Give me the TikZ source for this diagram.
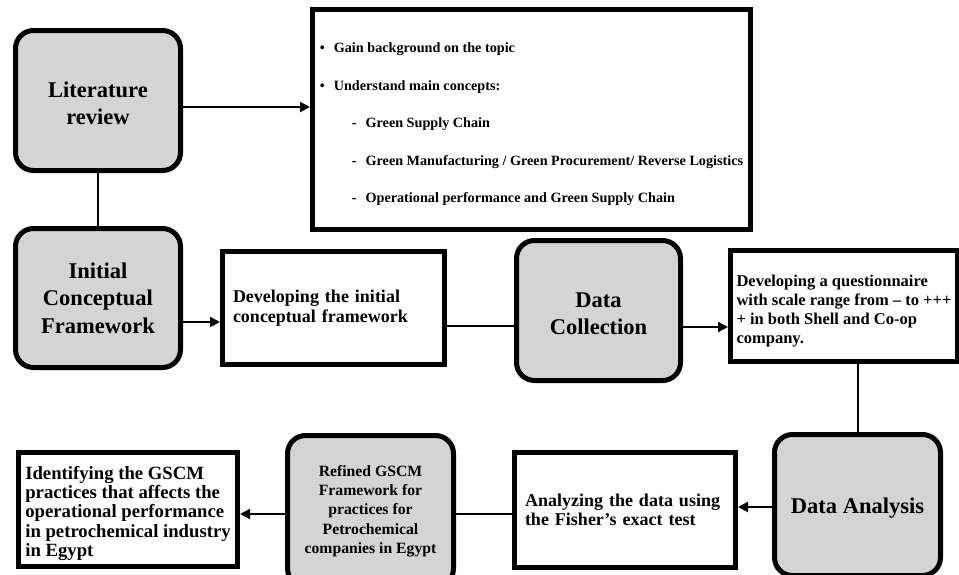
\documentclass[tikz,border=0pt]{standalone}
\usepackage{fontspec}
\setmainfont{Liberation Serif}
\usetikzlibrary{arrows.meta}
\definecolor{stepgray}{HTML}{D4D4D4}
\newcommand\lift[1]{\rule{0pt}{#1}}
\begin{document}
\begin{tikzpicture}[x=1pt,y=1pt,
    phase/.style={draw,line width=5pt,rounded corners=18pt,fill=stepgray,align=center,
      font=\bfseries\fontsize{22.5}{27.5}\selectfont,inner sep=0pt},
    task/.style={draw,line width=5pt,fill=white,align=left,
      font=\bfseries\fontsize{18}{19.5}\selectfont,inner sep=0pt},
    link/.style={line width=2pt},
    flow/.style={line width=2pt,-{Triangle[length=10pt,width=10pt]}}]
  \useasboundingbox (0,0) rectangle (959,-574);
  \draw
    (98,-100.5) node[phase,minimum width=165pt,minimum height=140pt] (lit){\lift{21.5pt}Literature\\review}
    (531.5,-119.5) node[task,minimum width=438pt,minimum height=220pt,
      font=\bfseries\fontsize{14.2}{37.5}\selectfont] (concepts){%
      \lift{20pt}\textbullet\hspace{9pt}Gain background on the topic\\
      \textbullet\hspace{9pt}Understand main concepts:\\
      \hspace*{32pt}-\hspace{9pt}Green Supply Chain\\
      \hspace*{32pt}-\hspace{9pt}Green Manufacturing / Green Procurement/ Reverse Logistics\\
      \hspace*{32pt}-\hspace{9pt}Operational performance and Green Supply Chain}
    (98,-298) node[phase,minimum width=165pt,minimum height=139pt] (icf){Initial\\Conceptual\\Framework}
    (333.5,-308) node[task,minimum width=222pt,minimum height=113pt,text width=201pt] (dev){Developing the initial\\conceptual framework}
    (598.5,-310.5) node[phase,minimum width=164pt,minimum height=140pt] (dc){\lift{21.5pt}Data\\Collection}
    (844,-306) node[task,minimum width=227pt,minimum height=111pt,
      font=\bfseries\fontsize{16.5}{19}\selectfont] (quest){\lift{21pt}Developing a questionnaire\\with scale range from -- to +++\\+ in both Shell and Co-op\\company.}
    (857.5,-505) node[phase,minimum width=166pt,minimum height=141pt] (da){\lift{21.5pt}Data Analysis}
    (625,-510) node[task,minimum width=221pt,minimum height=115pt,text width=200pt] (anal){Analyzing the data using\\the Fisher's exact test}
    (370.5,-511) node[phase,minimum width=166pt,minimum height=151pt,
      font=\bfseries\fontsize{15.7}{19.4}\selectfont] (refined){Refined GSCM\\Framework for\\practices for\\Petrochemical\\companies in Egypt}
    (128,-509.5) node[task,minimum width=219pt,minimum height=114pt,
      font=\bfseries\fontsize{18.7}{19.3}\selectfont] (ident){\lift{21pt}Identifying the GSCM\\practices that affects the\\operational performance\\in petrochemical industry\\in Egypt};
  \draw[link] (lit.south) -- (icf.north);
  \draw[flow] ([yshift=-6.5pt]lit.east) -- ([yshift=-6.5pt]lit.east -| concepts.west);
  \draw[flow] ([yshift=-24pt]icf.east) -- ([yshift=-24pt]icf.east -| dev.west);
  \draw[link] ([yshift=-18pt]dev.east) -- ([yshift=-18pt]dev.east -| dc.west);
  \draw[flow] ([yshift=-16.5pt]dc.east) -- ([yshift=-16.5pt]dc.east -| quest.west);
  \draw[link] (da.north |- quest.south) -- (da.north);
  \draw[flow] ([yshift=-2pt]da.west) -- ([yshift=-2pt]da.west -| anal.east);
  \draw[link] ([yshift=-4pt]anal.west) -- ([yshift=-4pt]anal.west -| refined.east);
  \draw[flow] ([yshift=-3pt]refined.west) -- ([yshift=-3pt]refined.west -| ident.east);
\end{tikzpicture}
\end{document}
